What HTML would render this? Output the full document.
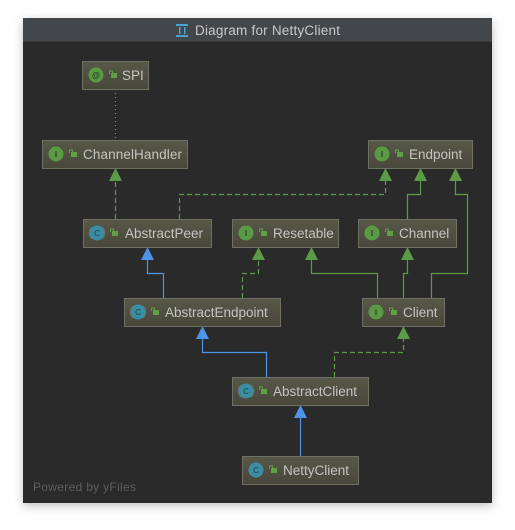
<!DOCTYPE html>
<html><head><meta charset="utf-8"><style>
html,body{margin:0;padding:0;background:#fff;width:515px;height:530px;overflow:hidden}
svg{display:block}
text{font-family:"Liberation Sans",sans-serif}
</style></head><body>
<svg width="515" height="530" viewBox="0 0 515 530" xmlns="http://www.w3.org/2000/svg">
<defs>
<linearGradient id="g" x1="0" y1="0" x2="0" y2="1"><stop offset="0" stop-color="#585848"/><stop offset="1" stop-color="#48473b"/></linearGradient>
<filter id="sh" x="-10%" y="-10%" width="120%" height="120%"><feDropShadow dx="0" dy="3" stdDeviation="5" flood-color="#000" flood-opacity="0.25"/></filter>
</defs>
<rect x="23" y="18" width="469" height="485" fill="#2b2b2b" filter="url(#sh)"/>
<rect x="23" y="18" width="469" height="24" fill="#44474a"/>
<rect x="23" y="41" width="469" height="1" fill="#363839"/>
<g fill="#4aa3d6"><rect x="176" y="24" width="12" height="2"/><rect x="176" y="35" width="12" height="2"/><rect x="179" y="27" width="1.5" height="7"/><rect x="184" y="27" width="1.5" height="7"/></g>
<text x="195" y="35" font-size="13.5" fill="#c9c9c9" textLength="145">Diagram for NettyClient</text>

<!-- connectors -->
<g fill="none" stroke-width="1.2">
<line x1="115.5" y1="89" x2="115.5" y2="140" stroke="#8a8a3a" stroke-dasharray="1,3"/>
<path d="M115.5 219V181" stroke="#5b9a46" stroke-dasharray="5,3"/>
<path d="M179.5 219V194.5H385.5V181" stroke="#5b9a46" stroke-dasharray="5,3"/>
<path d="M407.5 219V194.5H420.5V181" stroke="#5b9a46"/>
<path d="M431.5 298V273.5H467.5V194.5H455.5V181" stroke="#5b9a46"/>
<path d="M377.5 298V273.5H311.5V260" stroke="#5b9a46"/>
<path d="M403.5 298V273.5H407.5V260" stroke="#5b9a46"/>
<path d="M242.5 298V273.5H258.5V260" stroke="#5b9a46" stroke-dasharray="5,3"/>
<path d="M163.5 298V273.5H147.5V260" stroke="#4d94e8"/>
<path d="M266.5 377V352.5H202.5V339" stroke="#4d94e8"/>
<path d="M334.5 377V352.5H403.5V339" stroke="#5b9a46" stroke-dasharray="5,3"/>
<path d="M300.5 456V418" stroke="#4d94e8"/>
</g>
<g fill="#5b9a46">
<path d="M115.5 168l-6.5 13h13z"/>
<path d="M385.5 168l-6.5 13h13z"/>
<path d="M420.5 168l-6.5 13h13z"/>
<path d="M455.5 168l-6.5 13h13z"/>
<path d="M311.5 247l-6.5 13h13z"/>
<path d="M407.5 247l-6.5 13h13z"/>
<path d="M258.5 247l-6.5 13h13z"/>
<path d="M403.5 326l-6.5 13h13z"/>
</g>
<g fill="#4d94e8">
<path d="M147.5 247l-6.5 13h13z"/>
<path d="M202.5 326l-6.5 13h13z"/>
<path d="M300.5 405l-6.5 13h13z"/>
</g>

<!-- nodes -->
<g stroke="#6f6f63" stroke-width="1" fill="url(#g)">
<rect x="82.5" y="61.5" width="66" height="28"/>
<rect x="42.5" y="140.5" width="145" height="28"/>
<rect x="368.5" y="140.5" width="104" height="28"/>
<rect x="83.5" y="219.5" width="128" height="28"/>
<rect x="232.5" y="219.5" width="106" height="28"/>
<rect x="358.5" y="219.5" width="98" height="28"/>
<rect x="124.5" y="298.5" width="156" height="28"/>
<rect x="362.5" y="298.5" width="82" height="28"/>
<rect x="232.5" y="377.5" width="136" height="28"/>
<rect x="242.5" y="456.5" width="116" height="28"/>
</g>
<g fill="#5a9a44">
<circle cx="96" cy="75" r="7.5"/>
<circle cx="56" cy="154" r="7.5"/>
<circle cx="382" cy="154" r="7.5"/>
<circle cx="246" cy="233" r="7.5"/>
<circle cx="372" cy="233" r="7.5"/>
<circle cx="376" cy="312" r="7.5"/>
</g>
<g font-size="8" fill="#2b3a22" text-anchor="middle" font-weight="bold">
<text x="96" y="78">@</text>
<text x="56" y="157" font-family="Liberation Serif">I</text>
<text x="382" y="157" font-family="Liberation Serif">I</text>
<text x="246" y="236" font-family="Liberation Serif">I</text>
<text x="372" y="236" font-family="Liberation Serif">I</text>
<text x="376" y="315" font-family="Liberation Serif">I</text>
</g>
<g fill="#3a8da3">
<circle cx="97" cy="233" r="7.5"/>
<circle cx="138" cy="312" r="7.5"/>
<circle cx="246" cy="391" r="7.5"/>
<circle cx="256" cy="470" r="7.5"/>
</g>
<g fill="none" stroke="#6a7075" stroke-width="1">
<path d="M92 227a8 8 0 0 0 0 12M102 227a8 8 0 0 1 0 12"/>
<path d="M133 306a8 8 0 0 0 0 12M143 306a8 8 0 0 1 0 12"/>
<path d="M241 385a8 8 0 0 0 0 12M251 385a8 8 0 0 1 0 12"/>
</g>
<g font-size="8" fill="#1d3a44" text-anchor="middle">
<text x="97" y="236">C</text><text x="138" y="315">C</text><text x="246" y="394">C</text><text x="256" y="473">C</text>
</g>
<g fill="#5fa044">
<rect x="111" y="73" width="6" height="5"/><rect x="71" y="152" width="6" height="5"/><rect x="397" y="152" width="6" height="5"/>
<rect x="112" y="231" width="6" height="5"/><rect x="261" y="231" width="6" height="5"/><rect x="387" y="231" width="6" height="5"/>
<rect x="153" y="310" width="6" height="5"/><rect x="391" y="310" width="6" height="5"/><rect x="261" y="389" width="6" height="5"/><rect x="271" y="468" width="6" height="5"/>
</g>
<g fill="none" stroke="#5fa044" stroke-width="1">
<path d="M109.5 74v-3h3v2"/><path d="M69.5 153v-3h3v2"/><path d="M395.5 153v-3h3v2"/>
<path d="M110.5 232v-3h3v2"/><path d="M259.5 232v-3h3v2"/><path d="M385.5 232v-3h3v2"/>
<path d="M151.5 311v-3h3v2"/><path d="M389.5 311v-3h3v2"/><path d="M259.5 390v-3h3v2"/><path d="M269.5 469v-3h3v2"/>
</g>
<g font-size="13.5" fill="#c4c4c4">
<text x="122" y="80">SPI</text>
<text x="83" y="159" textLength="99">ChannelHandler</text>
<text x="409" y="159">Endpoint</text>
<text x="125" y="238">AbstractPeer</text>
<text x="273" y="238">Resetable</text>
<text x="399" y="238">Channel</text>
<text x="165" y="317">AbstractEndpoint</text>
<text x="403" y="317">Client</text>
<text x="273" y="396">AbstractClient</text>
<text x="283" y="475">NettyClient</text>
</g>
<text x="33" y="491" font-size="12" fill="#5e5e5e" textLength="103">Powered by yFiles</text>
</svg>
</body></html>
